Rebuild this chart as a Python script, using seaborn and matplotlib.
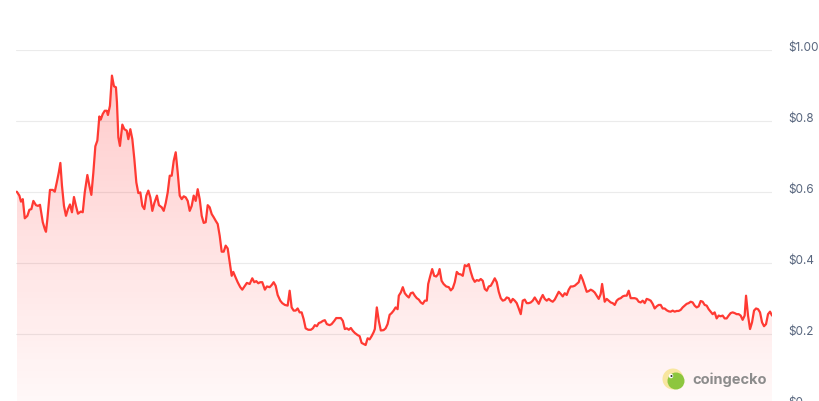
import numpy as np
import pandas as pd
import matplotlib
matplotlib.use("Agg")
import matplotlib.pyplot as plt
import seaborn as sns
from matplotlib.patches import Polygon, Ellipse
from matplotlib.transforms import ScaledTranslation

# day index (approx. one year of daily prices) and price in USD
days = ([0.9, 2.2, 3, 3.9, 4.9, 6.2, 7.2, 8.2, 9.2, 10.5,
         11.5, 12.5, 13.9, 14.9, 15.5, 16.2, 17.5, 18.9, 19.9, 20.9,
         21.9, 22.7, 23.5, 24.5, 25.5, 26.5, 27.5, 28.5, 29.5, 30.5,
         31.5, 32.9, 33.9, 34.9, 36.2, 37.2, 38.2, 39.2, 40.2, 41.2,
         42.2, 42.9, 43.9, 44.9, 45.9, 46.5, 47.5, 48.5, 49.5, 50.5,
         51, 51.7, 52.5, 53.7, 54.7, 55.9, 56.7, 57.7, 58.7, 59.7,
         60.7, 61.7, 62.7, 63.7, 64.7, 65.7, 66.7, 67.7, 68.7, 69.7,
         71, 72, 73.4, 74.4, 75.4, 76.4, 77.4, 78.4, 79.4, 80.4,
         81.4, 82.4, 83.4, 84.4, 85.4, 86.4, 87.4, 88.4, 89.4, 90.4,
         91.4, 92.4, 93.4, 94.4, 95.4, 96.4, 97.4, 98.4, 99.4, 100.4,
         101.4, 102.4, 103.4, 104.4, 105.4, 106.4, 107.4,
         108.4, 109.2, 110, 111.4, 112.7, 113.7, 115, 116, 117.4, 118.7,
         119.7, 120.7, 121.7, 122.7, 123.7, 125, 126, 127.4, 128.4, 129.4,
         130.4, 131.4, 132.7, 133.7, 135, 136.4, 137.4, 138.4, 139.4, 140.4,
         141.4, 142.4, 143.4, 144.4, 145.4, 146.7, 148, 149, 150, 151,
         152, 153, 154, 155, 156, 157.4, 158.4, 159.7, 160.7, 162,
         163, 164, 165, 166, 167, 168, 169, 170, 171.4, 172.4,
         173.4, 174.4, 175.4, 176.4, 177.4, 178.4, 179.4, 180, 181, 182,
         183, 184.4, 185.4, 186.4, 187.4, 188.4, 189.4, 190.4, 191.4, 192,
         193, 194, 195, 196, 197, 198, 199, 200, 201, 202,
         203, 204, 205, 206, 206.7, 207.7, 208.7, 209.7, 210.7, 211.7,
         212.4, 213.4, 214.4, 215.7]
        + list(range(217, 294)) + [293.7, 294.4] + list(range(295, 366))
        + [365.7, 366.7, 367.7, 368.7, 369.7, 370.7, 371.7, 372.7, 373.7,
           374.7, 375.7, 376.7, 377.7, 378.7])

prices = [0.601, 0.590, 0.573, 0.580, 0.526, 0.533, 0.550, 0.552, 0.575, 0.563,
          0.561, 0.564, 0.515, 0.496, 0.488, 0.524, 0.606, 0.606, 0.601, 0.627,
          0.655, 0.682, 0.618, 0.561, 0.533, 0.552, 0.565, 0.543, 0.586, 0.561,
          0.539, 0.545, 0.543, 0.599, 0.648, 0.618, 0.592, 0.655, 0.729, 0.745,
          0.813, 0.804, 0.820, 0.829, 0.829, 0.817, 0.843, 0.928, 0.898, 0.895,
          0.853, 0.754, 0.730, 0.790, 0.777, 0.773, 0.749, 0.777, 0.749, 0.693,
          0.627, 0.597, 0.599, 0.561, 0.552, 0.590, 0.604, 0.585, 0.547, 0.569,
          0.590, 0.563, 0.557, 0.547, 0.569, 0.599, 0.646, 0.646, 0.688, 0.712,
          0.655, 0.590, 0.580, 0.588, 0.585, 0.575, 0.547, 0.561, 0.590, 0.575,
          0.608, 0.580, 0.533, 0.513, 0.515, 0.563, 0.557, 0.538, 0.529, 0.519,
          0.510, 0.477, 0.432, 0.432, 0.449, 0.441, 0.402,
          0.364, 0.375, 0.364, 0.346, 0.332, 0.325, 0.336, 0.344, 0.341, 0.357,
          0.346, 0.349, 0.343, 0.346, 0.346, 0.325, 0.334, 0.332, 0.338, 0.346,
          0.336, 0.310, 0.294, 0.287, 0.282, 0.280, 0.322, 0.275, 0.266, 0.266,
          0.272, 0.261, 0.261, 0.242, 0.216, 0.212, 0.212, 0.216, 0.225, 0.222,
          0.231, 0.233, 0.237, 0.239, 0.228, 0.225, 0.228, 0.237, 0.245, 0.245,
          0.245, 0.237, 0.214, 0.216, 0.212, 0.217, 0.209, 0.203, 0.197, 0.194,
          0.175, 0.172, 0.169, 0.188, 0.185, 0.194, 0.205, 0.214, 0.275, 0.237,
          0.210, 0.211, 0.216, 0.228, 0.254, 0.259, 0.266, 0.275, 0.270, 0.308,
          0.317, 0.332, 0.315, 0.308, 0.303, 0.315, 0.317, 0.308, 0.301, 0.297,
          0.289, 0.285, 0.294, 0.294, 0.341, 0.363, 0.383, 0.364, 0.362, 0.369,
          0.383, 0.350, 0.341, 0.334,
          0.332, 0.323, 0.329, 0.346, 0.375, 0.369, 0.368, 0.364, 0.394, 0.391,
          0.397, 0.375, 0.357, 0.347, 0.352, 0.350, 0.355, 0.350, 0.327, 0.322,
          0.334, 0.336, 0.346, 0.357, 0.346, 0.319, 0.301, 0.294, 0.296, 0.303,
          0.301, 0.289, 0.299, 0.294, 0.287, 0.272, 0.256, 0.294, 0.297, 0.287,
          0.287, 0.289, 0.294, 0.303, 0.294, 0.285, 0.299, 0.310, 0.299, 0.294,
          0.299, 0.294, 0.291, 0.297, 0.308, 0.319,
          0.313, 0.306, 0.315, 0.310, 0.325, 0.334, 0.334, 0.336, 0.341, 0.346,
          0.366, 0.353, 0.336, 0.319, 0.321, 0.325, 0.322, 0.317, 0.308, 0.299,
          0.313, 0.341, 0.313,
          0.291, 0.299, 0.294, 0.289, 0.287, 0.282, 0.294, 0.299, 0.301, 0.306,
          0.308, 0.308, 0.322, 0.301, 0.301, 0.301, 0.299, 0.291, 0.289, 0.294,
          0.287, 0.299, 0.297, 0.294, 0.285, 0.272, 0.278, 0.282, 0.282, 0.272,
          0.272, 0.267, 0.264,
          0.263, 0.266, 0.263, 0.265, 0.265, 0.268, 0.275, 0.280, 0.285, 0.287,
          0.291, 0.289, 0.280, 0.275, 0.278, 0.293, 0.291, 0.282, 0.280, 0.270,
          0.263, 0.256, 0.261, 0.244, 0.252, 0.250, 0.252, 0.244, 0.244, 0.252,
          0.259, 0.261, 0.259, 0.256, 0.256, 0.252, 0.240, 0.252,
          0.308, 0.252, 0.214, 0.233, 0.266, 0.272, 0.270, 0.261, 0.233, 0.222,
          0.228, 0.256, 0.263, 0.252]

tick_values = [0, 0.2, 0.4, 0.6, 0.8, 1.0]
tick_labels = ["$0", "$0.2", "$0.4", "$0.6", "$0.8", "$1.00"]

df = pd.DataFrame({"day": days, "price": prices})

sns.set_style("white")
plt.rcParams["font.family"] = ["Inter", "DejaVu Sans"]

fig = plt.figure(figsize=(8.2, 4.02), dpi=100)
ax = fig.add_axes([0.0195, -0.01, 0.922, 0.883])

# gradient fill under the line
x0, x1 = df["day"].min(), df["day"].max()
verts = list(zip(df["day"], df["price"])) + [(x1, 0), (x0, 0)]
clip = Polygon(verts, closed=True, facecolor="none", edgecolor="none")
ax.add_patch(clip)
n = 256
rgba = np.zeros((n, 1, 4))
rgba[..., 0] = 1.0
rgba[..., 1] = 0.15
rgba[..., 2] = 0.15
rgba[..., 3] = np.linspace(0.24, 0.03, n).reshape(-1, 1)
top = df["price"].max()
img = ax.imshow(rgba, extent=[x0, x1, 0, top], aspect="auto", origin="upper", zorder=1)
img.set_clip_path(clip)

sns.lineplot(data=df, x="day", y="price", ax=ax, color="#ff3a33", linewidth=1.6, zorder=3)

ax.set_xlim(0.5, x1)
ax.set_ylim(0, 1.0)
ax.set_yticks(tick_values)
ax.set_yticklabels(tick_labels)
ax.set_xticks([])
ax.yaxis.tick_right()
ax.tick_params(axis="y", length=0, pad=11.5, labelsize=8.5, labelcolor="#58667e")
for lbl in ax.get_yticklabels():
    lbl.set_transform(lbl.get_transform() + ScaledTranslation(0, 5 / 100, fig.dpi_scale_trans))
ax.yaxis.grid(True, color="#ebebeb", linewidth=0.8)
ax.xaxis.grid(False)
ax.set_axisbelow(True)
ax.set_xlabel("")
ax.set_ylabel("")
for s in ax.spines.values():
    s.set_visible(False)
ax.patch.set_alpha(0)

# coingecko watermark
W, H = 820, 402
fig.add_artist(Ellipse((673 / W, 22 / H), 21 / W, 21 / H, transform=fig.transFigure,
                       facecolor="#f8e6a0", edgecolor="none"))
fig.add_artist(Ellipse((676 / W, 20 / H), 17 / W, 17 / H, transform=fig.transFigure,
                       facecolor="#8dc63f", edgecolor="none"))
fig.add_artist(Ellipse((671 / W, 25 / H), 4.5 / W, 4.5 / H, transform=fig.transFigure,
                       facecolor="white", edgecolor="none"))
fig.add_artist(Ellipse((671.5 / W, 25 / H), 2 / W, 2 / H, transform=fig.transFigure,
                       facecolor="#333333", edgecolor="none"))
fig.text(692 / W, 22 / H, "coingecko", fontsize=10.5, fontweight="bold",
         color="#8c8c8c", va="center", ha="left")

fig.savefig("out.png", dpi=100, facecolor="white")
